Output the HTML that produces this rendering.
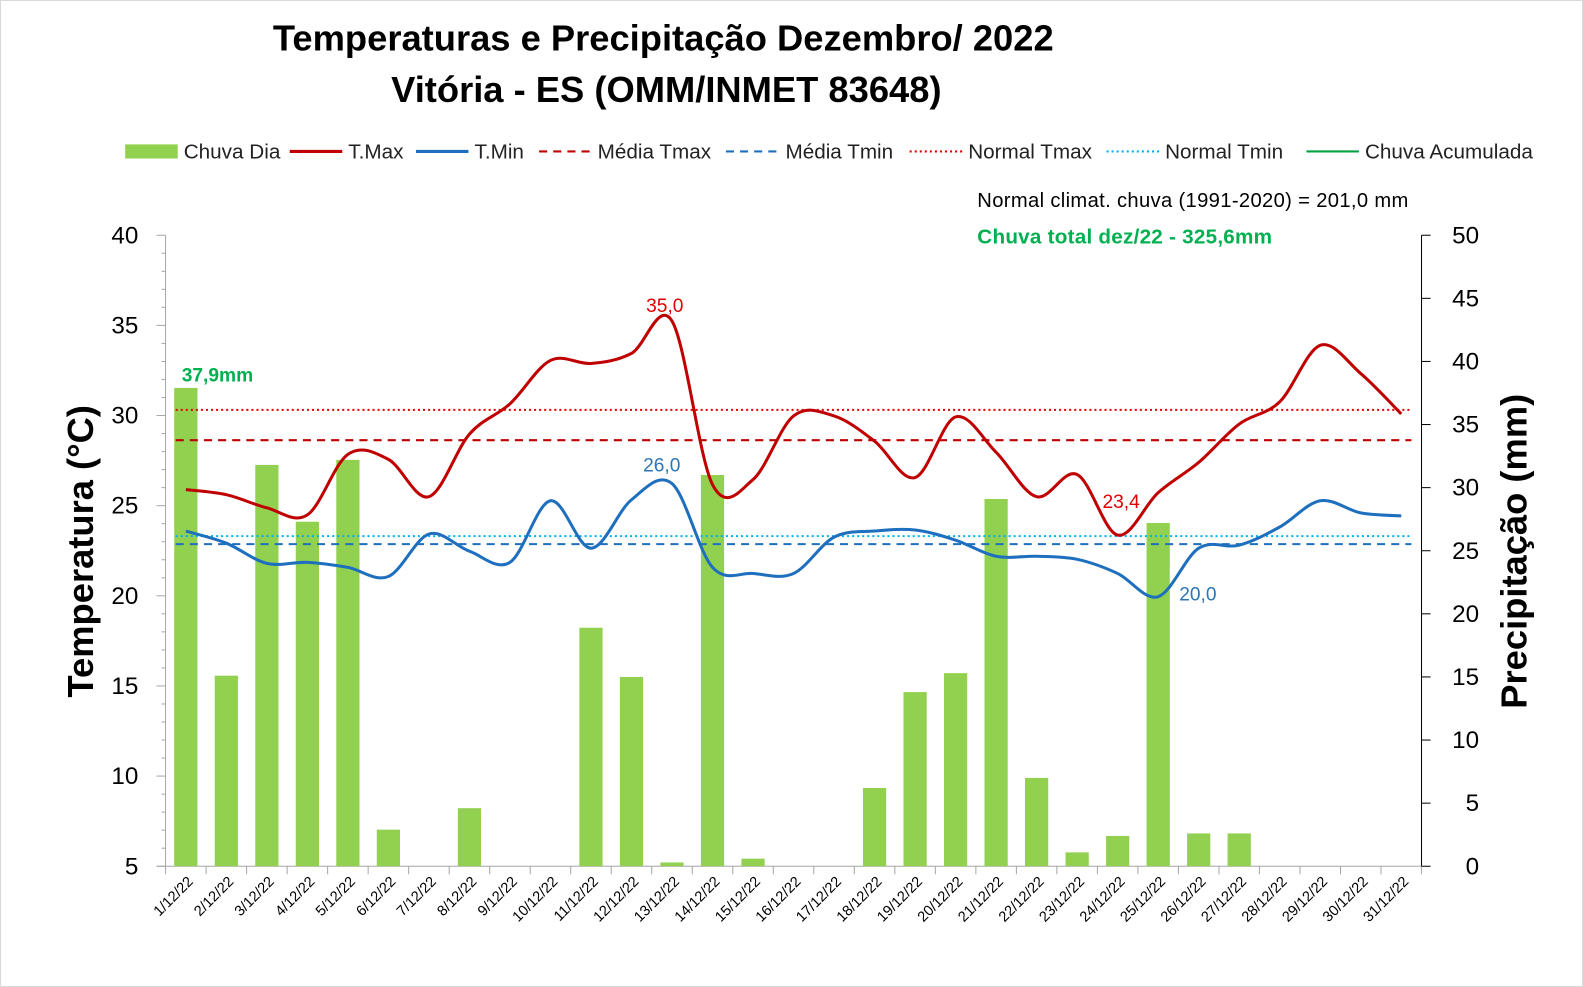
<!DOCTYPE html>
<html><head><meta charset="utf-8"><style>
html,body{margin:0;padding:0;background:#fff;}
svg{display:block;font-family:"Liberation Sans","DejaVu Sans",sans-serif;}
</style></head><body>
<svg width="1583" height="987" viewBox="0 0 1583 987" xmlns="http://www.w3.org/2000/svg">
<rect x="0.5" y="0.5" width="1582" height="986" fill="#fff" stroke="#d9d9d9"/>
<g transform="scale(1.0096)">
<text x="657" y="50" text-anchor="middle" font-size="36" font-weight="bold">Temperaturas e Precipitação Dezembro/ 2022</text>
<text x="660" y="101" text-anchor="middle" font-size="36" font-weight="bold">Vitória - ES (OMM/INMET 83648)</text>
<g font-size="20.5" fill="#222">
<rect x="124" y="143" width="52" height="14" fill="#92d050"/><text x="182" y="157">Chuva Dia</text>
<line x1="287" y1="150" x2="339" y2="150" stroke="#c00000" stroke-width="3"/><text x="345" y="157">T.Max</text>
<line x1="412" y1="150" x2="464" y2="150" stroke="#1f6fbf" stroke-width="3"/><text x="470" y="157">T.Min</text>
<line x1="534" y1="150" x2="586" y2="150" stroke="#c00000" stroke-width="2" stroke-dasharray="8,6"/><text x="592" y="157">Média Tmax</text>
<line x1="719" y1="150" x2="771" y2="150" stroke="#1f6fbf" stroke-width="2" stroke-dasharray="8,6"/><text x="778" y="157">Média Tmin</text>
<line x1="901" y1="150" x2="953" y2="150" stroke="#e00000" stroke-width="2" stroke-dasharray="2,3"/><text x="959" y="157">Normal Tmax</text>
<line x1="1096" y1="150" x2="1148" y2="150" stroke="#00b0f0" stroke-width="2" stroke-dasharray="2,3"/><text x="1154" y="157">Normal Tmin</text>
<line x1="1294" y1="150" x2="1346" y2="150" stroke="#00a040" stroke-width="2"/><text x="1352" y="157">Chuva Acumulada</text>
</g>
<text x="968" y="205" font-size="20" textLength="427">Normal climat. chuva (1991-2020) = 201,0 mm</text>
<text x="968" y="241" font-size="20.5" font-weight="bold" fill="#00b050" textLength="292">Chuva total dez/22  - 325,6mm</text>
<g stroke-width="1">
<line x1="164" y1="233" x2="164" y2="858" stroke="#a6a6a6"/>
<line x1="1408" y1="233" x2="1408" y2="858" stroke="#000"/>
<line x1="155" y1="858" x2="1408" y2="858" stroke="#a6a6a6"/>
</g>
<g id="bars" fill="#92d050"></g>
<g id="ticks" stroke="#a6a6a6"></g>
<g id="rticks" stroke="#000"></g>
<g id="labels" font-size="24" fill="#000"></g>
<g id="xl" font-size="14.5" fill="#000"></g>
<line x1="174" y1="406" x2="1398" y2="406" stroke="#e00000" stroke-width="2" stroke-dasharray="2,3"/>
<line x1="174" y1="531" x2="1398" y2="531" stroke="#00b0f0" stroke-width="2" stroke-dasharray="2,3"/>
<line x1="174" y1="436" x2="1398" y2="436" stroke="#c00000" stroke-width="2" stroke-dasharray="8,6"/>
<line x1="174" y1="539" x2="1398" y2="539" stroke="#1f6fbf" stroke-width="2" stroke-dasharray="8,6"/>
<path id="tmax" fill="none" stroke="#c00000" stroke-width="3"/>
<path id="tmin" fill="none" stroke="#1f6fbf" stroke-width="3"/>
<text x="180" y="378" font-size="19" font-weight="bold" fill="#00b050">37,9mm</text>
<text x="640" y="309" font-size="19" fill="#e00000">35,0</text>
<text x="637" y="467" font-size="19" fill="#2e75b6">26,0</text>
<text x="1092" y="503" font-size="19" fill="#e00000">23,4</text>
<text x="1168" y="595" font-size="19" fill="#2e75b6">20,0</text>
<text transform="translate(92,546) rotate(-90)" text-anchor="middle" font-size="36" font-weight="bold">Temperatura (°C)</text>
<text transform="translate(1512,546) rotate(-90)" text-anchor="middle" font-size="36" font-weight="bold">Precipitação (mm)</text>
</g>
</svg>
<script>
const NS="http://www.w3.org/2000/svg";
function el(p,t,a,txt){const e=document.createElementNS(NS,t);for(const k in a)e.setAttribute(k,a[k]);if(txt!==undefined)e.textContent=txt;document.getElementById(p).appendChild(e);}
const x0=164,w=(1408-164)/31;const cx=i=>x0+w*(i+0.5);
const rain=[37.9,15.1,31.8,27.3,32.2,2.9,0,4.6,0,0,18.9,15,0.3,31,0.6,0,0,6.2,13.8,15.3,29.1,7,1.1,2.4,27.2,2.6,2.6,0,0,0,0];
rain.forEach((r,i)=>{if(r>0)el("bars","rect",{x:cx(i)-11.5,y:858-r*12.5,width:23,height:r*12.5});});
for(let t=5;t<=40;t+=5){const y=858-(t-5)*17.857;el("ticks","line",{x1:155,x2:164,y1:y,y2:y});el("labels","text",{x:137,y:y+8,"text-anchor":"end"},t);}
for(let t=0;t<=50;t+=5){const y=858-t*12.5;el("rticks","line",{x1:1408,x2:1417,y1:y,y2:y});el("labels","text",{x:1465,y:y+8,"text-anchor":"end"},t);}
for(let t=5;t<40;t+=1){const y=858-(t-5)*17.857;if(t%5)el("ticks","line",{x1:160,x2:164,y1:y,y2:y});}
for(let i=0;i<=31;i++){const x=x0+w*i;el("ticks","line",{x1:x,x2:x,y1:858,y2:866});}
for(let i=0;i<31;i++){const x=cx(i)+8;el("xl","text",{transform:`translate(${x},874) rotate(-45)`,"text-anchor":"end"},(i+1)+"/12/22");}
const tmax=[485,490,503,510,450,455,492,430,400,357,360,350,318,480,475,412,412,437,473,413,448,492,470,530,488,458,420,398,342,370,410];
const tmin=[526,538,558,557,562,571,529,546,557,496,543,495,479,562,568,568,532,526,525,535,551,551,554,568,591,543,540,522,496,508,511];
function path(ys){const p=ys.map((y,i)=>[cx(i),y]);let d=`M${p[0][0]},${p[0][1]}`;for(let i=0;i<p.length-1;i++){const a=p[Math.max(0,i-1)],b=p[i],c=p[i+1],e=p[Math.min(p.length-1,i+2)];const k=1/6;d+=` C${b[0]+(c[0]-a[0])*k},${b[1]+(c[1]-a[1])*k} ${c[0]-(e[0]-b[0])*k},${c[1]-(e[1]-b[1])*k} ${c[0]},${c[1]}`;}return d;}
document.getElementById("tmax").setAttribute("d",path(tmax));
document.getElementById("tmin").setAttribute("d",path(tmin));
</script>
</body></html>
